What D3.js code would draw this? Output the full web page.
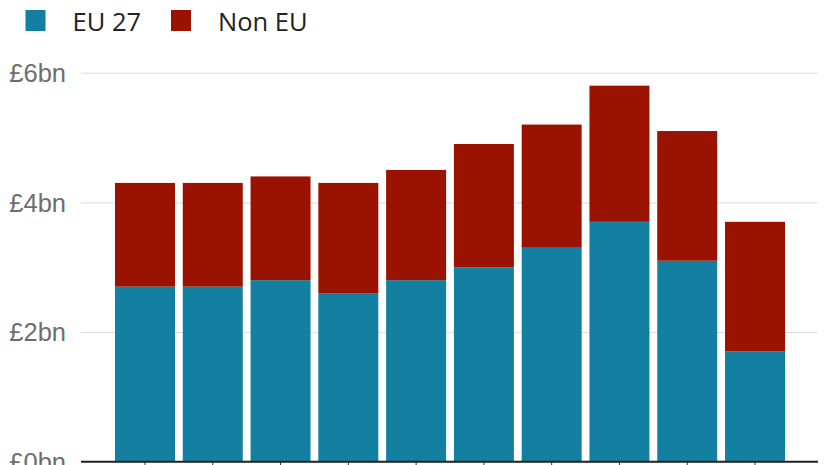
<!DOCTYPE html>
<html>
<head>
<meta charset="utf-8">
<script src="https://cdn.jsdelivr.net/npm/d3@7"></script>
<style>
  html, body { margin: 0; padding: 0; background: #fff; }
  svg { display: block; font-family: "Open Sans", "Noto Sans", sans-serif; }
</style>
</head>
<body>
<svg id="chart" width="825" height="465"></svg>
<script>
// Data, £bn
const categories = ["2012", "2013", "2014", "2015", "2016", "2017", "2018", "2019", "2020", "2021"];
const eu27 =  [2.7, 2.7, 2.8, 2.6, 2.8, 3.0, 3.3, 3.7, 3.1, 1.7];
const nonEU = [1.6, 1.6, 1.6, 1.7, 1.7, 1.9, 1.9, 2.1, 2.0, 2.0];
const seriesNames = ["EU 27", "Non EU"];
const seriesKeys = ["eu", "noneu"];
const seriesColors = ["#1380a1", "#9a1200"];
const yTicks = [0, 2, 4, 6];

const rows = categories.map((c, i) => ({ cat: c, eu: eu27[i], noneu: nonEU[i] }));

const svg = d3.select("#chart");
const plotLeft = 81, plotRight = 818;
const yBottom = 461.7, yTop = 72.7;

const x = d3.scaleBand()
  .domain(categories)
  .range([111.1, 788.9])
  .paddingInner(0.115)
  .paddingOuter(0.0575);

const y = d3.scaleLinear().domain([0, 6]).range([yBottom, yTop]);
const color = d3.scaleOrdinal().domain(seriesKeys).range(seriesColors);

// Gridlines and y labels
const yAxis = d3.axisLeft(y)
  .tickValues(yTicks)
  .tickSize(-(plotRight - plotLeft))
  .tickPadding(15)
  .tickFormat(d => "£" + d + "bn");

const gy = svg.append("g")
  .attr("transform", `translate(${plotLeft},0)`)
  .call(yAxis);
gy.select(".domain").remove();
gy.selectAll(".tick line").attr("stroke", "#dcdcdc").attr("stroke-width", 1);
gy.selectAll(".tick text")
  .attr("fill", "#6e6e6e")
  .attr("font-size", 25.5)
  .attr("dy", "0.34em");

// Stacked bars
const stacked = d3.stack().keys(seriesKeys)(rows);
svg.append("g")
  .selectAll("g")
  .data(stacked)
  .join("g")
  .attr("fill", d => color(d.key))
  .selectAll("rect")
  .data(d => d)
  .join("rect")
  .attr("x", d => x(d.data.cat))
  .attr("width", x.bandwidth())
  .attr("y", d => y(d[1]))
  .attr("height", d => y(d[0]) - y(d[1]));

// X axis (baseline with ticks at bar centres; labels are cropped off in the reference)
const xAxis = d3.axisBottom(x).tickSize(10).tickFormat(() => "");
const gx = svg.append("g")
  .attr("transform", `translate(0,${yBottom})`)
  .call(xAxis);
gx.select(".domain").remove();
gx.selectAll(".tick line").attr("stroke", "#333").attr("stroke-width", 1);
svg.append("line")
  .attr("x1", plotLeft).attr("x2", plotRight)
  .attr("y1", yBottom).attr("y2", yBottom)
  .attr("stroke", "#222").attr("stroke-width", 2);

// Legend
const legend = svg.append("g");
const legendX = [25.5, 171];
seriesNames.forEach((name, i) => {
  const g = legend.append("g").attr("transform", `translate(${legendX[i]},10)`);
  g.append("rect").attr("width", 20).attr("height", 21).attr("fill", seriesColors[i]);
  g.append("text")
    .attr("x", 47).attr("y", 20.5)
    .attr("font-size", 25.5)
    .attr("fill", "#222")
    .text(name);
});
</script>
</body>
</html>
